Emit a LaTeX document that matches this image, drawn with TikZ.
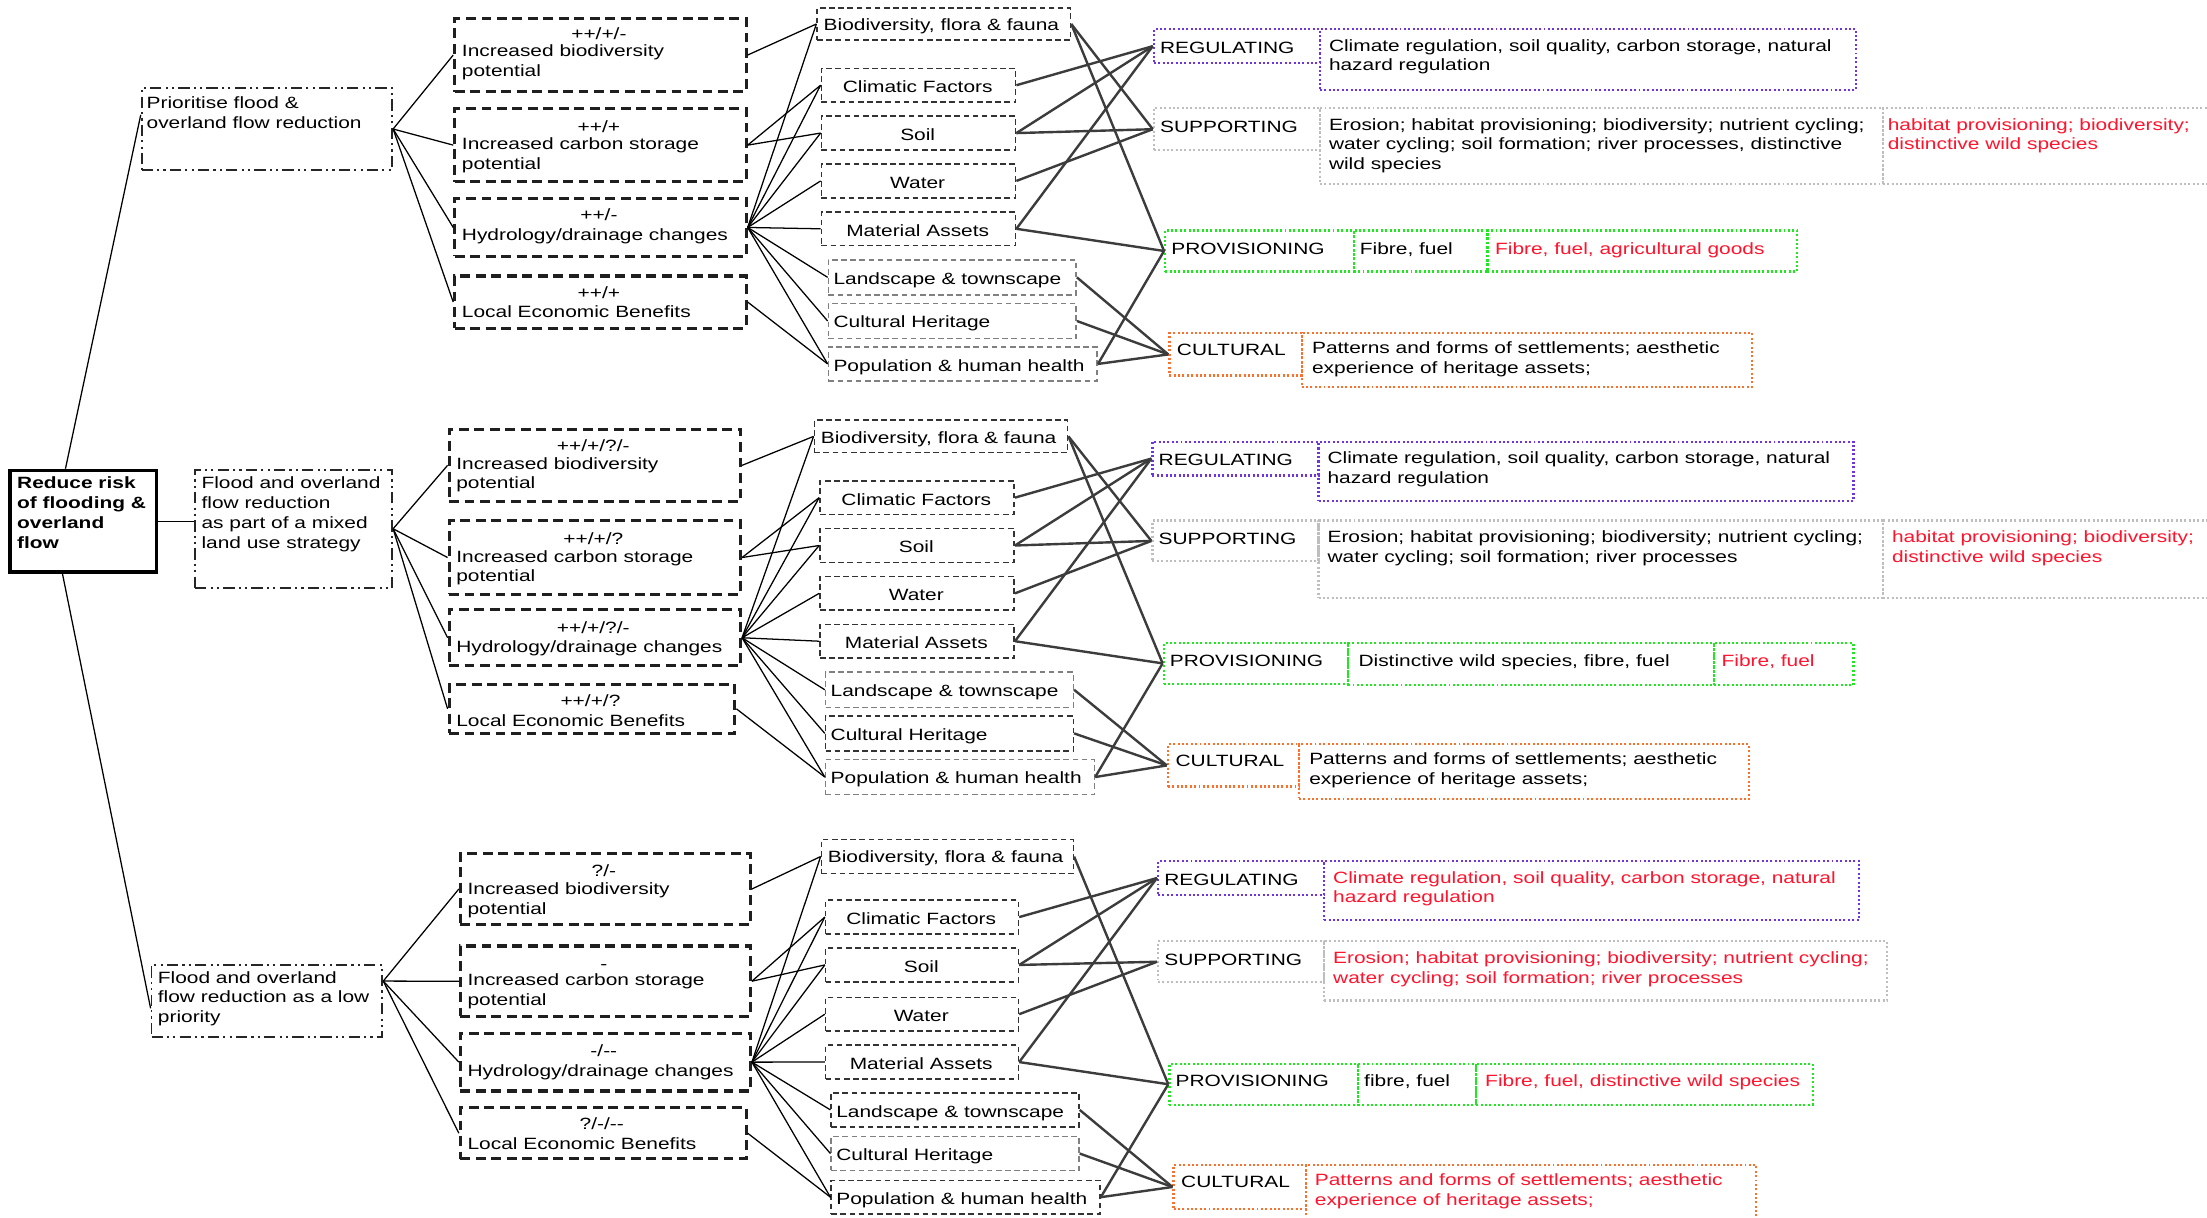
\documentclass[tikz,border=0pt]{standalone}
\usepackage{fontspec}
\setmainfont{Liberation Sans}[FakeStretch=1.28]
\usetikzlibrary{calc}
\definecolor{regc}{RGB}{112,52,222}
\definecolor{supc}{RGB}{190,190,190}
\definecolor{provc}{RGB}{30,232,30}
\definecolor{cultc}{RGB}{250,112,45}
\definecolor{redtx}{RGB}{255,20,45}
\definecolor{lnc}{RGB}{60,60,60}
\newcommand\mybx[6]{\node[#6, anchor=north west, inner sep=0pt, minimum width={(#4-#2)*1pt}, minimum height={(#5-#3)*1pt}] (#1) at (#2,#3) {};}
\newcommand\mytx[5][]{\node[txt,#1] (#2) at (#3,#4-4.2) {#5};}
\newcommand\mytc[5][]{\node[txtc,#1] (#2) at (#3,#4-4.2) {#5};}
\newcommand\myfont{\fontsize{11.6}{14}\selectfont}
\tikzset{
  txt/.style={inner sep=0pt, anchor=north west, align=left, execute at begin node=\strut},
  txtc/.style={inner sep=0pt, anchor=north, align=center, execute at begin node=\strut},
  rootbox/.style={draw=black, line width=2.6pt},
  lvone/.style={draw=black!85, line width=1.3pt, dash pattern=on 8pt off 3pt on 1.5pt off 3pt on 1.5pt off 3pt},
  lvtwo/.style={draw=black!88, line width=2.2pt, dash pattern=on 7pt off 4pt},
  fdark/.style={draw=black!80, line width=1.1pt, dash pattern=on 4pt off 2.5pt},
  flight/.style={draw=black!50, line width=1.1pt, dash pattern=on 4pt off 2.5pt},
  sreg/.style={draw=regc, line width=1.6pt, dash pattern=on 1.4pt off 1.7pt},
  ssup/.style={draw=supc, line width=1.6pt, dash pattern=on 1.4pt off 1.7pt},
  sprov/.style={draw=provc, line width=1.6pt, dash pattern=on 1.4pt off 1.7pt},
  scult/.style={draw=cultc, line width=1.6pt, dash pattern=on 1.4pt off 1.7pt},
  rt/.style={text=redtx},
  cone/.style={draw=black, line width=0.9pt},
  ctwo/.style={draw=lnc, line width=1.7pt},
}
\begin{document}
\begin{tikzpicture}[x=1pt, y=-1pt, font=\myfont]
\useasboundingbox (0,0) rectangle (1568,865);
\fill[white] (0,0) rectangle (1568,865);

% ---------- root
\mybx{root}{6}{333}{110}{405}{rootbox}
\mytx[font=\myfont\bfseries]{roott}{12}{343}{Reduce risk\\of flooding \&\\overland\\flow}

% ================= SECTION A
\mybx{L1a}{100}{62}{278}{120}{lvone}
\mytx{L1at}{104}{73}{Prioritise flood \&\\overland flow reduction}
\mybx{B1a}{322}{12}{529}{64}{lvtwo}
\mytc{B1ah}{425.5}{22}{++/+/-}
\mytx{B1at}{328}{36}{Increased biodiversity\\potential}
\mybx{B2a}{322}{76}{529}{128}{lvtwo}
\mytc{B2ah}{425.5}{88}{++/+}
\mytx{B2at}{328}{102}{Increased carbon storage\\potential}
\mybx{B3a}{322}{140}{529}{181}{lvtwo}
\mytc{B3ah}{425.5}{151}{++/-}
\mytx{B3at}{328}{165}{Hydrology/drainage changes}
\mybx{B4a}{322}{195}{529}{232}{lvtwo}
\mytc{B4ah}{425.5}{206}{++/+}
\mytx{B4at}{328}{220}{Local Economic Benefits}

\mybx{F1a}{580}{5}{760}{28}{fdark}
\mytx{F1at}{585}{16}{Biodiversity, flora \& fauna}
\mybx{F2a}{583}{48}{721}{72}{fdark}
\mytc{F2at}{652}{60}{Climatic Factors}
\mybx{F3a}{583}{82}{721}{106}{fdark}
\mytc{F3at}{652}{94}{Soil}
\mybx{F4a}{583}{116}{721}{140}{fdark}
\mytc{F4at}{652}{128}{Water}
\mybx{F5a}{583}{150}{721}{174}{fdark}
\mytc{F5at}{652}{162}{Material Assets}
\mybx{F6a}{588}{184}{764}{209}{flight}
\mytx{F6at}{592}{196}{Landscape \& townscape}
\mybx{F7a}{588}{215}{764}{240}{flight}
\mytx{F7at}{592}{227}{Cultural Heritage}
\mybx{F8a}{588}{246}{779}{270}{flight}
\mytx{F8at}{592}{258}{Population \& human health}

\mybx{RLa}{819}{20}{937}{44}{sreg}
\mytx{RLat}{824}{32}{REGULATING}
\mybx{RTa}{937}{20}{1318}{63}{sreg}
\mytx{RTat}{944}{32}{Climate regulation, soil quality, carbon storage, natural\\hazard regulation}
\mybx{SLa}{819}{76}{937}{106}{ssup}
\mytx{SLat}{824}{88}{SUPPORTING}
\mybx{STa}{937}{76}{1337}{130}{ssup}
\mytx{STat}{944}{88}{Erosion; habitat provisioning; biodiversity; nutrient cycling;\\water cycling; soil formation; river processes, distinctive\\wild species}
\mybx{SRa}{1337}{76}{1580}{130}{ssup}
\mytx[rt]{SRat}{1341}{88}{habitat provisioning; biodiversity;\\distinctive wild species}
\mybx{PLa}{827}{163}{961}{192}{sprov}
\mytx{PLat}{832}{175}{PROVISIONING}
\mybx{PTa}{961}{163}{1056}{192}{sprov}
\mytx{PTat}{966}{175}{Fibre, fuel}
\mybx{PRa}{1056}{163}{1276}{192}{sprov}
\mytx[rt]{PRat}{1062}{175}{Fibre, fuel, agricultural goods}
\mybx{CLa}{830}{236}{924}{266}{scult}
\mytx{CLat}{836}{247}{CULTURAL}
\mybx{CTa}{924}{236}{1244}{274}{scult}
\mytx{CTat}{932}{247}{Patterns and forms of settlements; aesthetic\\experience of heritage assets;}

% ================= SECTION B
\mybx{L1b}{138}{333}{278}{417}{lvone}
\mytx{L1bt}{143}{343}{Flood and overland\\flow reduction\\as part of a mixed\\land use strategy}
\mybx{B1b}{318}{304}{525}{355}{lvtwo}
\mytc{B1bh}{421.5}{315}{++/+/?/-}
\mytx{B1bt}{324}{329}{Increased biodiversity\\potential}
\mybx{B2b}{318}{369}{525}{421}{lvtwo}
\mytc{B2bh}{421.5}{381}{++/+/?}
\mytx{B2bt}{324}{395}{Increased carbon storage\\potential}
\mybx{B3b}{318}{432}{525}{472}{lvtwo}
\mytc{B3bh}{421.5}{444}{++/+/?/-}
\mytx{B3bt}{324}{458}{Hydrology/drainage changes}
\mybx{B4b}{318}{485}{521}{520}{lvtwo}
\mytc{B4bh}{419.5}{496}{++/+/?}
\mytx{B4bt}{324}{510}{Local Economic Benefits}

\mybx{F1b}{578}{298}{758}{321}{fdark}
\mytx{F1bt}{583}{309}{Biodiversity, flora \& fauna}
\mybx{F2b}{582}{341}{720}{365}{fdark}
\mytc{F2bt}{651}{353}{Climatic Factors}
\mybx{F3b}{582}{375}{720}{399}{fdark}
\mytc{F3bt}{651}{387}{Soil}
\mybx{F4b}{582}{409}{720}{433}{fdark}
\mytc{F4bt}{651}{421}{Water}
\mybx{F5b}{582}{443}{720}{467}{fdark}
\mytc{F5bt}{651}{455}{Material Assets}
\mybx{F6b}{586}{477}{762}{502}{flight}
\mytx{F6bt}{590}{489}{Landscape \& townscape}
\mybx{F7b}{586}{508}{762}{533}{fdark}
\mytx{F7bt}{590}{520}{Cultural Heritage}
\mybx{F8b}{586}{539}{777}{564}{flight}
\mytx{F8bt}{590}{551}{Population \& human health}

\mybx{RLb}{818}{313}{936}{337}{sreg}
\mytx{RLbt}{823}{325}{REGULATING}
\mybx{RTb}{936}{313}{1316}{355}{sreg}
\mytx{RTbt}{943}{325}{Climate regulation, soil quality, carbon storage, natural\\hazard regulation}
\mybx{SLb}{818}{369}{936}{398}{ssup}
\mytx{SLbt}{823}{381}{SUPPORTING}
\mybx{STb}{936}{369}{1337}{424}{ssup}
\mytx{STbt}{943}{381}{Erosion; habitat provisioning; biodiversity; nutrient cycling;\\water cycling; soil formation; river processes}
\mybx{SRb}{1337}{369}{1580}{424}{ssup}
\mytx[rt]{SRbt}{1344}{381}{habitat provisioning; biodiversity;\\distinctive wild species}
\mybx{PLb}{826}{456}{957}{485}{sprov}
\mytx{PLbt}{831}{468}{PROVISIONING}
\mybx{PTb}{957}{456}{1217}{486}{sprov}
\mytx{PTbt}{965}{468}{Distinctive wild species, fibre, fuel}
\mybx{PRb}{1217}{456}{1316}{486}{sprov}
\mytx[rt]{PRbt}{1223}{468}{Fibre, fuel}
\mybx{CLb}{829}{528}{922}{558}{scult}
\mytx{CLbt}{835}{539}{CULTURAL}
\mybx{CTb}{922}{528}{1242}{567}{scult}
\mytx{CTbt}{930}{539}{Patterns and forms of settlements; aesthetic\\experience of heritage assets;}

% ================= SECTION C
\mybx{L1c}{107}{685}{271}{736}{lvone}
\mytx{L1ct}{112}{694}{Flood and overland\\flow reduction as a low\\priority}
\mybx{B1c}{326}{605}{532}{656}{lvtwo}
\mytc{B1ch}{429}{617}{?/-}
\mytx{B1ct}{332}{631}{Increased biodiversity\\potential}
\mybx{B2c}{326}{671}{532}{721}{lvtwo}
\mytc{B2ch}{429}{683}{-}
\mytx{B2ct}{332}{696}{Increased carbon storage\\potential}
\mybx{B3c}{326}{733}{532}{774}{lvtwo}
\mytc{B3ch}{429}{745}{-/-{}-}
\mytx{B3ct}{332}{759}{Hydrology/drainage changes}
\mybx{B4c}{326}{786}{529}{822}{lvtwo}
\mytc{B4ch}{427.5}{797}{?/-/-{}-}
\mytx{B4ct}{332}{811}{Local Economic Benefits}

\mybx{F1c}{583}{596}{762}{620}{fdark}
\mytx{F1ct}{588}{607}{Biodiversity, flora \& fauna}
\mybx{F2c}{586}{639}{723}{663}{fdark}
\mytc{F2ct}{654.5}{651}{Climatic Factors}
\mybx{F3c}{586}{673}{723}{697}{fdark}
\mytc{F3ct}{654.5}{685}{Soil}
\mybx{F4c}{586}{708}{723}{732}{fdark}
\mytc{F4ct}{654.5}{720}{Water}
\mybx{F5c}{586}{742}{723}{766}{fdark}
\mytc{F5ct}{654.5}{754}{Material Assets}
\mybx{F6c}{590}{776}{766}{800}{fdark}
\mytx{F6ct}{594}{788}{Landscape \& townscape}
\mybx{F7c}{590}{807}{766}{831}{flight}
\mytx{F7ct}{594}{819}{Cultural Heritage}
\mybx{F8c}{590}{838}{781}{862}{fdark}
\mytx{F8ct}{594}{850}{Population \& human health}

\mybx{RLc}{822}{611}{940}{635}{sreg}
\mytx{RLct}{827}{623}{REGULATING}
\mybx{RTc}{940}{611}{1320}{653}{sreg}
\mytx[rt]{RTct}{947}{623}{Climate regulation, soil quality, carbon storage, natural\\hazard regulation}
\mybx{SLc}{822}{668}{940}{697}{ssup}
\mytx{SLct}{827}{680}{SUPPORTING}
\mybx{STc}{940}{668}{1340}{710}{ssup}
\mytx[rt]{STct}{947}{680}{Erosion; habitat provisioning; biodiversity; nutrient cycling;\\water cycling; soil formation; river processes}
\mybx{PLc}{830}{755}{964}{784}{sprov}
\mytx{PLct}{835}{766}{PROVISIONING}
\mybx{PTc}{964}{755}{1048}{784}{sprov}
\mytx{PTct}{969}{766}{fibre, fuel}
\mybx{PRc}{1048}{755}{1287}{784}{sprov}
\mytx[rt]{PRct}{1055}{766}{Fibre, fuel, distinctive wild species}
\mybx{CLc}{833}{827}{927}{858}{scult}
\mytx{CLct}{839}{838}{CULTURAL}
\mybx{CTc}{927}{827}{1247}{872}{scult}
\mytx[rt]{CTct}{934}{838}{Patterns and forms of settlements; aesthetic\\experience of heritage assets;}

% ================= CONNECTORS
\draw[cone] ($(root.north west)!0.38!(root.north east)$) -- ($(L1a.north west)!0.33!(L1a.south west)$);
\draw[cone] (root.east) -- (root.east -| L1b.west);
\draw[cone] ($(root.south west)!0.36!(root.south east)$) -- ($(L1c.north west)!0.6!(L1c.south west)$);

\coordinate (Oa) at (L1a.east);
\coordinate (Ob) at (L1b.east);
\coordinate (Oc) at ($(L1c.north east)!0.23!(L1c.south east)$);

\foreach \s in {a,b,c} {
  \foreach \k in {1,2,3,4} { \draw[cone] (O\s) -- (B\k\s.west); }
  \draw[cone] (B1\s.east) -- (F1\s.west);
  \draw[cone] (B2\s.east) -- (F2\s.west);
  \draw[cone] (B2\s.east) -- (F3\s.west);
  \foreach \k in {1,...,8} { \draw[cone] (B3\s.east) -- (F\k\s.west); }
  \draw[cone] (B4\s.east) -- (F8\s.west);
  % factors to services
  \draw[ctwo] (F1\s.east) -- (PL\s.west);
  \draw[ctwo] (F2\s.east) -- (RL\s.west);
  \draw[ctwo] (F3\s.east) -- (RL\s.west);
  \draw[ctwo] (F3\s.east) -- (SL\s.west);
  \draw[ctwo] (F4\s.east) -- (SL\s.west);
  \draw[ctwo] (F5\s.east) -- (RL\s.west);
  \draw[ctwo] (F5\s.east) -- (PL\s.west);
  \draw[ctwo] (F6\s.east) -- (CL\s.west);
  \draw[ctwo] (F7\s.east) -- (CL\s.west);
  \draw[ctwo] (F8\s.east) -- (CL\s.west);
  \draw[ctwo] (F8\s.east) -- (PL\s.west);
}
\draw[ctwo] (F1a.east) -- (SLa.west);
\draw[ctwo] (F1b.east) -- (SLb.west);
\end{tikzpicture}
\end{document}
